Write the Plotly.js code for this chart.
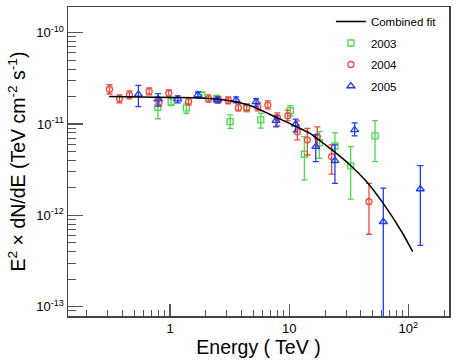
<!DOCTYPE html>
<html>
<head>
<meta charset="utf-8">
<script src="https://cdn.plot.ly/plotly-3.0.1.min.js"></script>
<style>
  body { margin: 0; background: #fff; }
  #myDiv { width: 457px; height: 362px; }
</style>
</head>
<body>
<div id="myDiv"></div>
<script>
// combined fit
var fitE = [0.308, 0.56, 1.0, 1.79, 3.07, 4.69, 7.6, 11.6, 14.9, 22.0, 32.4, 44.7, 61.5, 87.9, 108.7];
var fitFlux = [2.0e-11, 1.98e-11, 1.95e-11, 1.93e-11, 1.81e-11, 1.59e-11, 1.2e-11, 9.3e-12, 7.9e-12, 5.4e-12, 3.56e-12, 2.33e-12, 1.35e-12, 6.6e-13, 4.0e-13];

// 2003
var e03 = [0.789, 1.02, 1.37, 1.85, 2.46, 3.19, 4.37, 5.77, 10.2, 13.4, 17.9, 24.2, 32.8, 52.5];
var f03 = [1.52e-11, 1.75e-11, 1.5e-11, 2.08e-11, 1.91e-11, 1.06e-11, 1.5e-11, 1.11e-11, 1.4e-11, 4.66e-12, 6.24e-12, 5.74e-12, 3.47e-12, 7.39e-12];
var hi03 = [1.99e-11, 1.91e-11, 1.69e-11, 2.24e-11, 2.06e-11, 1.26e-11, 1.66e-11, 1.31e-11, 1.59e-11, 7.26e-12, 8.24e-12, 8.0e-12, 5.64e-12, 1.09e-11];
var lo03 = [1.14e-11, 1.59e-11, 1.31e-11, 1.93e-11, 1.77e-11, 8.97e-12, 1.36e-11, 9.0e-12, 1.23e-11, 2.44e-12, 4.21e-12, 3.74e-12, 1.5e-12, 3.86e-12];

// 2004
var e04 = [0.31, 0.376, 0.456, 0.667, 0.809, 0.975, 1.43, 2.1, 2.54, 3.08, 3.74, 4.4, 5.44, 6.61, 7.94, 9.72, 11.7, 14.2, 17.2, 22.7, 46.7];
var f04 = [2.4e-11, 1.89e-11, 2.08e-11, 2.27e-11, 1.73e-11, 2.17e-11, 1.76e-11, 1.89e-11, 1.83e-11, 1.81e-11, 1.51e-11, 1.51e-11, 1.54e-11, 1.61e-11, 1.18e-11, 1.23e-11, 8.2e-12, 6.7e-12, 7.26e-12, 4.39e-12, 1.41e-12];
var hi04 = [2.69e-11, 2.08e-11, 2.3e-11, 2.48e-11, 1.88e-11, 2.36e-11, 1.93e-11, 2.08e-11, 1.98e-11, 1.98e-11, 1.66e-11, 1.66e-11, 1.7e-11, 1.79e-11, 1.32e-11, 1.42e-11, 1.08e-11, 8.97e-12, 9.3e-12, 5.89e-12, 2.24e-12];
var lo04 = [2.13e-11, 1.7e-11, 1.88e-11, 2.08e-11, 1.57e-11, 1.98e-11, 1.61e-11, 1.74e-11, 1.7e-11, 1.66e-11, 1.39e-11, 1.39e-11, 1.39e-11, 1.46e-11, 9.5e-12, 1.08e-11, 6.7e-12, 4.57e-12, 5.6e-12, 2.83e-12, 6.2e-13];

// 2005
var e05 = [0.542, 0.793, 1.16, 1.71, 2.49, 3.58, 5.27, 7.75, 11.3, 16.7, 24.2, 35.4, 61.6, 126];
var f05 = [2.11e-11, 1.87e-11, 1.87e-11, 2.08e-11, 1.83e-11, 1.83e-11, 1.75e-11, 1.09e-11, 9.9e-12, 5.64e-12, 3.96e-12, 8.6e-12, 8.5e-13, 1.94e-12];
var hi05 = [2.65e-11, 2.15e-11, 2.03e-11, 2.24e-11, 1.98e-11, 1.98e-11, 1.89e-11, 1.22e-11, 1.13e-11, 7.58e-12, 5.89e-12, 1.03e-11, 1.98e-12, 3.49e-12];
var lo05 = [1.55e-11, 1.57e-11, 1.7e-11, 1.93e-11, 1.7e-11, 1.7e-11, 1.55e-11, 9.3e-12, 8.2e-12, 3.86e-12, 2.24e-12, 7.4e-12, 1e-14, 4.69e-13];

var xTickVals = [1, 10, 100];
var xTickText = ["1", "10", "10<sup>2</sup>"];
var yTickVals = [1e-13, 1e-12, 1e-11, 1e-10];
var yTickText = ["10<sup>-13</sup>", "10<sup>-12</sup>", "10<sup>-11</sup>", "10<sup>-10</sup>"];

function minorVals(lo, hi) {
  var out = [];
  for (var p = lo; p <= hi; p++) {
    for (var m = 2; m <= 9; m++) out.push(m * Math.pow(10, p));
  }
  return out;
}

function diff(a, b) {
  return a.map(function (v, i) { return Math.abs(v - b[i]); });
}

function points(name, e, f, hi, lo, color, symbol, size, rank) {
  return {
    x: e,
    y: f,
    name: name,
    legendgroup: name,
    type: "scatter",
    mode: "markers",
    legendrank: rank,
    marker: { color: color, symbol: symbol, size: size, line: { width: 1.3, color: color } },
    error_y: {
      type: "data",
      symmetric: false,
      array: diff(hi, f),
      arrayminus: diff(f, lo),
      color: color,
      thickness: 1.3,
      width: 3,
    },
  };
}

var s2003 = points("2003", e03, f03, hi03, lo03, "#4fd84f", "square-open", 6, 2);
var s2004 = points("2004", e04, f04, hi04, lo04, "#f0493c", "circle-open", 6, 3);
var s2005 = points("2005", e05, f05, hi05, lo05, "#1f3cf5", "triangle-up-open", 7, 4);

var fit = {
  x: fitE,
  y: fitFlux,
  name: "Combined fit",
  legendgroup: "fit",
  type: "scatter",
  mode: "lines",
  legendrank: 1,
  line: { color: "#000", width: 1.5, shape: "spline", smoothing: 0.6 },
};

var data = [s2003, s2004, s2005, fit];

var font = { family: "Liberation Sans, Arial, sans-serif", color: "#000" };

var layout = {
  width: 457,
  height: 362,
  margin: { l: 68, r: 8, t: 7, b: 46 },
  paper_bgcolor: "#fff",
  plot_bgcolor: "#fff",
  font: font,
  showlegend: true,
  legend: {
    x: 0.69,
    y: 1.0,
    xanchor: "left",
    yanchor: "top",
    bgcolor: "rgba(0,0,0,0)",
    font: { family: font.family, size: 11.5, color: "#000" },
    tracegroupgap: 2.5,
  },
  xaxis: {
    type: "log",
    range: [-0.857, 2.341],
    tickmode: "array",
    tickvals: xTickVals,
    ticktext: xTickText,
    ticks: "inside",
    ticklen: 12,
    tickwidth: 1.3,
    tickcolor: "#555",
    tickfont: { family: font.family, size: 13, color: "#000" },
    minor: { tickmode: "array", tickvals: minorVals(-1, 2), ticks: "inside", ticklen: 6, tickwidth: 1, tickcolor: "#555" },
    showgrid: false,
    zeroline: false,
    showline: true,
    linecolor: "#444",
    linewidth: 1.5,
    mirror: true,
    title: { text: "Energy ( TeV )", font: { family: font.family, size: 19.5, color: "#000" }, standoff: 4 },
  },
  yaxis: {
    type: "log",
    range: [-13.103, -9.719],
    tickmode: "array",
    tickvals: yTickVals,
    ticktext: yTickText,
    ticks: "inside",
    ticklen: 15,
    tickwidth: 1.3,
    tickcolor: "#555",
    tickfont: { family: font.family, size: 13, color: "#000" },
    minor: { tickmode: "array", tickvals: minorVals(-14, -10), ticks: "inside", ticklen: 8, tickwidth: 1, tickcolor: "#555" },
    showgrid: false,
    zeroline: false,
    showline: true,
    linecolor: "#444",
    linewidth: 1.5,
    mirror: true,
    title: { text: "E<sup>2</sup> × dN/dE (TeV cm<sup>-2</sup> s<sup>-1</sup>)", font: { family: font.family, size: 19.5, color: "#000" }, standoff: 5 },
  },
};

const config = {
  displayModeBar: false,
  staticPlot: true,
};

Plotly.newPlot("myDiv", data, layout, config);
</script>
</body>
</html>
